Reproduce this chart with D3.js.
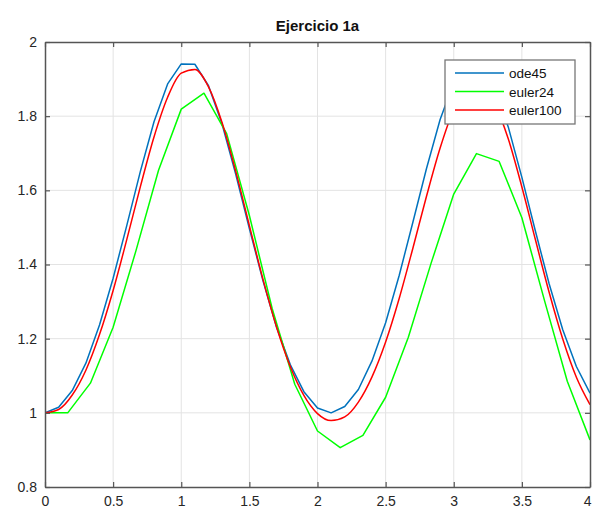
<!DOCTYPE html>
<html>
<head>
<meta charset="utf-8">
<script src="https://cdn.jsdelivr.net/npm/d3@7"></script>
<style>
  html, body { margin: 0; padding: 0; background: #fff; }
  svg { display: block; font-family: "Liberation Sans", Arial, Helvetica, sans-serif; }
</style>
</head>
<body>
<svg id="chart" width="592" height="511"></svg>
<script>
// ---- data ----
const title = "Ejercicio 1a";
const seriesNames = ["ode45", "euler24", "euler100"];
const xTicks = [0, 0.5, 1, 1.5, 2, 2.5, 3, 3.5, 4];
const yTicks = [0.8, 1, 1.2, 1.4, 1.6, 1.8, 2];

// ode45 output, t = 0:0.1:4
const odeT = [0,0.1,0.2,0.3,0.4,0.5,0.6,0.7,0.8,0.9,1.0,1.1,1.2,1.3,1.4,1.5,1.6,1.7,1.8,1.9,2.0,
              2.1,2.2,2.3,2.4,2.5,2.6,2.7,2.8,2.9,3.0,3.1,3.2,3.3,3.4,3.5,3.6,3.7,3.8,3.9,4.0];
const odeY = [1.000,1.015,1.060,1.134,1.237,1.363,1.505,1.651,1.785,1.887,1.941,1.940,1.882,1.778,1.643,1.497,1.356,1.230,1.130,1.057,1.013,
              1.000,1.017,1.063,1.140,1.243,1.371,1.514,1.659,1.791,1.891,1.946,1.938,1.875,1.771,1.635,1.489,1.348,1.224,1.125,1.053];

// euler24, 24 steps on [0,4]
const e24T = [0,0.1667,0.3333,0.5,0.6667,0.8333,1.0,1.1667,1.3333,1.5,1.6667,1.8333,2.0,
              2.1667,2.3333,2.5,2.6667,2.8333,3.0,3.1667,3.3333,3.5,3.6667,3.8333,4.0];
const e24Y = [1.000,1.000,1.080,1.231,1.436,1.654,1.819,1.862,1.753,1.532,1.282,1.077,0.951,
              0.906,0.939,1.042,1.204,1.403,1.590,1.699,1.678,1.526,1.302,1.085,0.927];

// euler100, sampled every 0.1
const e100T = odeT;
const e100Y = [1.000,1.009,1.048,1.115,1.211,1.330,1.467,1.610,1.744,1.851,1.916,1.926,1.879,1.782,1.651,1.505,1.360,1.231,1.125,1.047,0.998,
               0.979,0.989,1.029,1.097,1.191,1.309,1.444,1.584,1.714,1.818,1.881,1.885,1.834,1.739,1.609,1.466,1.325,1.199,1.096,1.022];

const colors = ["#0072BD", "#00FF00", "#FF0000"];

// ---- layout ----
const svg = d3.select("#chart");
const L = 45, R = 590, T = 42, B = 487;

const x = d3.scaleLinear().domain([0, 4]).range([L, R]);
const y = d3.scaleLinear().domain([0.8, 2]).range([B, T]);

svg.append("rect").attr("x", 0).attr("y", 0).attr("width", 592).attr("height", 511).attr("fill", "#fff");

// grid
const grid = svg.append("g");
grid.selectAll(".gx").data(xTicks.slice(1, -1)).enter().append("line")
  .attr("x1", d => x(d)).attr("x2", d => x(d)).attr("y1", T).attr("y2", B)
  .attr("stroke", "#e3e3e3").attr("stroke-width", 1);
grid.selectAll(".gy").data(yTicks.slice(1, -1)).enter().append("line")
  .attr("y1", d => y(d)).attr("y2", d => y(d)).attr("x1", L).attr("x2", R)
  .attr("stroke", "#e3e3e3").attr("stroke-width", 1);

// series
const series = [
  {name: seriesNames[0], t: odeT, v: odeY, color: colors[0], curve: d3.curveLinear},
  {name: seriesNames[1], t: e24T, v: e24Y, color: colors[1], curve: d3.curveLinear},
  {name: seriesNames[2], t: e100T, v: e100Y, color: colors[2], curve: d3.curveMonotoneX}
];
svg.append("clipPath").attr("id", "clip").append("rect")
  .attr("x", L).attr("y", T).attr("width", R - L).attr("height", B - T);
const lines = svg.append("g").attr("clip-path", "url(#clip)");
series.forEach(s => {
  const pts = s.t.map((t, i) => [t, s.v[i]]);
  lines.append("path").datum(pts)
    .attr("fill", "none").attr("stroke", s.color).attr("stroke-width", 1.5)
    .attr("stroke-linejoin", "round")
    .attr("d", d3.line().x(d => x(d[0])).y(d => y(d[1])).curve(s.curve));
});

// axes (MATLAB-like box with inward ticks)
const axColor = "#555";
const tickLen = 5;
const xb = svg.append("g").attr("transform", `translate(0,${B})`)
  .call(d3.axisBottom(x).tickValues(xTicks).tickFormat(d3.format("")).tickSizeInner(-tickLen).tickSizeOuter(0).tickPadding(9));
const xt = svg.append("g").attr("transform", `translate(0,${T})`)
  .call(d3.axisTop(x).tickValues(xTicks).tickFormat("").tickSizeInner(-tickLen).tickSizeOuter(0));
const yl = svg.append("g").attr("transform", `translate(${L},0)`)
  .call(d3.axisLeft(y).tickValues(yTicks).tickFormat(d3.format("")).tickSizeInner(-tickLen).tickSizeOuter(0).tickPadding(8));
const yr = svg.append("g").attr("transform", `translate(${R},0)`)
  .call(d3.axisRight(y).tickValues(yTicks).tickFormat("").tickSizeInner(-tickLen).tickSizeOuter(0));
[xb, xt, yl, yr].forEach(g => {
  g.select(".domain").attr("stroke", axColor).attr("stroke-width", 1.5);
  g.selectAll(".tick line").attr("stroke", axColor).attr("stroke-width", 1.2);
  g.selectAll(".tick text").attr("fill", "#262626").style("font-size", "14px")
    .style("font-family", "\"Liberation Sans\", Arial, sans-serif");
});
// last x label sits at the window edge; keep it fully inside
xb.selectAll(".tick text").filter(d => d === 4).attr("text-anchor", "end").attr("dx", "1px");

// title
svg.append("text").attr("x", (L + R) / 2).attr("y", 31).attr("text-anchor", "middle")
  .attr("fill", "#111").style("font-size", "15px").style("font-weight", "bold").text(title);

// legend
const lg = svg.append("g");
const lgX = 445, lgY = 60, lgW = 130, lgH = 64;
lg.append("rect").attr("x", lgX).attr("y", lgY).attr("width", lgW).attr("height", lgH)
  .attr("fill", "#fff").attr("stroke", "#777").attr("stroke-width", 1.3);
series.forEach((s, i) => {
  const cy = lgY + 13 + i * 18.5;
  lg.append("line").attr("x1", lgX + 10).attr("x2", lgX + 59).attr("y1", cy).attr("y2", cy)
    .attr("stroke", s.color).attr("stroke-width", 1.5);
  lg.append("text").attr("x", lgX + 64).attr("y", cy + 5).attr("fill", "#111")
    .style("font-size", "13.5px").text(s.name);
});
</script>
</body>
</html>
